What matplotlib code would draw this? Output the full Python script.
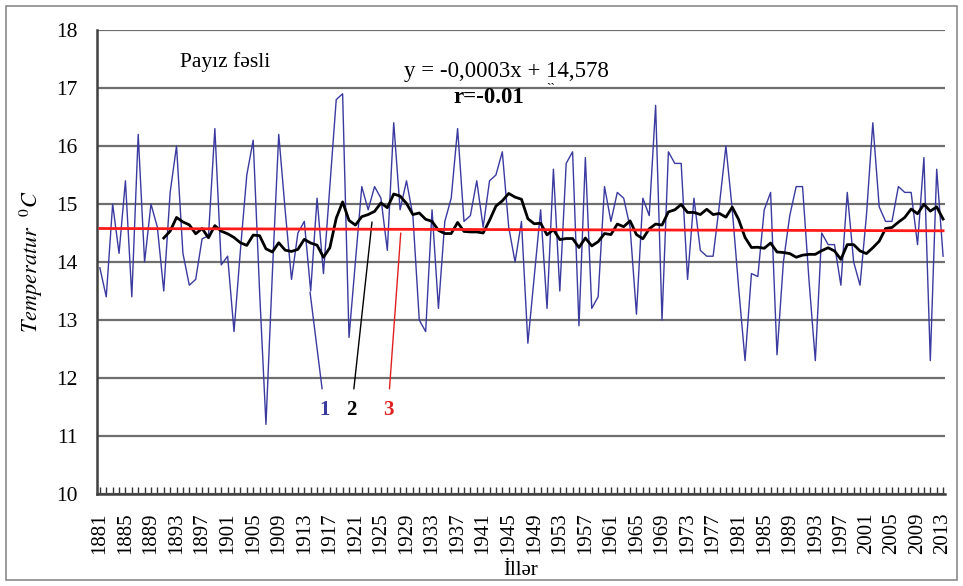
import numpy as np
import pandas as pd
import matplotlib
matplotlib.use("Agg")
import matplotlib.pyplot as plt
from matplotlib.patches import Rectangle

# ---- data ----
years = list(range(1881, 2014))
temps = [
    13.9, 13.4, 15.0, 14.15, 15.4, 13.4, 16.2, 14.0, 15.0, 14.6,   # 1881-1890
    13.5, 15.2, 16.0, 14.15, 13.6, 13.7, 14.4, 14.45, 16.3, 13.95, # 1891-1900
    14.1, 12.8, 14.2, 15.5, 16.1, 13.5, 11.2, 13.8, 16.2, 14.9,    # 1901-1910
    13.7, 14.5, 14.7, 13.5, 15.1, 13.8, 15.3, 16.8, 16.9, 12.7,    # 1911-1920
    14.0, 15.3, 14.9, 15.3, 15.1, 14.2, 16.4, 14.9, 15.4, 14.8,    # 1921-1930
    13.0, 12.8, 14.9, 13.2, 14.7, 15.1, 16.3, 14.7, 14.8, 15.4,    # 1931-1940
    14.6, 15.4, 15.5, 15.9, 14.6, 14.0, 14.7, 12.6, 13.75, 14.9,   # 1941-1950
    13.2, 15.6, 13.5, 15.7, 15.9, 12.9, 15.8, 13.2, 13.4, 15.3,    # 1951-1960
    14.7, 15.2, 15.1, 14.6, 13.1, 15.1, 14.8, 16.7, 13.0, 15.9,    # 1961-1970
    15.7, 15.7, 13.7, 15.1, 14.2, 14.1, 14.1, 15.0, 16.0, 14.9,    # 1971-1980
    13.55, 12.3, 13.8, 13.75, 14.9, 15.2, 12.4, 14.0, 14.8, 15.3,  # 1981-1990
    15.3, 13.7, 12.3, 14.5, 14.3, 14.3, 13.6, 15.2, 14.0, 13.6,    # 1991-2000
    14.8, 16.4, 14.95, 14.7, 14.7, 15.3, 15.2, 15.2, 14.3, 15.8,   # 2001-2010
    12.3, 15.6, 14.1,                                              # 2011-2013
]
ma_window = 11
trend_slope = -0.0003
trend_intercept = 14.578
x_tick_labels = [str(y) for y in range(1881, 2014, 4)]
y_ticks = list(range(10, 19))

s = pd.Series(temps, index=years)
moving_avg = s.rolling(ma_window).mean()
idx = np.arange(1, len(years) + 1)
trend = trend_intercept + trend_slope * idx

# ---- figure ----
W, H = 963, 586
fig = plt.figure(figsize=(W / 100, H / 100), dpi=100)
plt.rcParams['font.family'] = ['Liberation Serif', 'DejaVu Serif']
plt.rcParams['mathtext.fontset'] = 'stix'

ax = fig.add_axes([97 / W, 1 - 494 / H, (945 - 97) / W, (494 - 30) / H])

ax.plot(years, temps, color='#3a3aa0', lw=1.0, zorder=3)
ax.plot(years, moving_avg.values, color='black', lw=2.0, zorder=4)
ax.plot(years, trend, color='#ff1a1a', lw=2.0, zorder=5)

ax.set_xlim(1880.55, 2013.3)
ax.set_ylim(10, 18)
ax.set_yticks(y_ticks)
ax.set_yticklabels([str(v) for v in y_ticks], fontsize=15.5)
ax.set_xticks(list(range(1881, 2014, 4)))
ax.set_xticklabels(x_tick_labels, rotation=90, fontsize=15)
ax.set_xticks(years, minor=True)
ax.tick_params(axis='x', which='both', direction='in', length=5, width=1, color='#333333', pad=13)
ax.tick_params(axis='y', length=0, pad=14)

ax.yaxis.grid(True, color='#6e6e6e', lw=1.6, zorder=1)
ax.set_axisbelow(True)
for side in ['top', 'right']:
    ax.spines[side].set_visible(False)
for side in ['left', 'bottom']:
    ax.spines[side].set_color('#404040')
    ax.spines[side].set_linewidth(1.8)

ax.set_ylabel(r'$\it{Temperatur}\ \ ^{0}\it{C}$', fontsize=16, labelpad=8)
ax.set_xlabel('İllər', fontsize=15, labelpad=5)

# annotations
ax.text(1900.6, 17.45, 'Payız fəsli', fontsize=15.5, ha='center', va='center')
ax.text(1944.7, 17.28, 'y = -0,0003x + 14,578', fontsize=16.5, ha='center', va='center')
ax.text(1941.9, 16.83, 'r=-0.01', fontsize=16.5, fontweight='bold', ha='center', va='center')
ax.text(1951.6, 16.98, '``', fontsize=10, ha='center', va='center')

ax.annotate('1', xy=(1913.9, 13.48), xytext=(1916.2, 11.45), color='#3a3aa0',
            fontsize=15, fontweight='bold', ha='center', va='center',
            arrowprops=dict(arrowstyle='-', color='#3a3aa0', lw=1.0, shrinkA=6, shrinkB=0))
ax.annotate('2', xy=(1923.6, 14.69), xytext=(1920.4, 11.45), color='black',
            fontsize=15, fontweight='bold', ha='center', va='center',
            arrowprops=dict(arrowstyle='-', color='black', lw=1.0, shrinkA=6, shrinkB=0))
ax.annotate('3', xy=(1928.1, 14.5), xytext=(1926.1, 11.45), color='#e02020',
            fontsize=15, fontweight='bold', ha='center', va='center',
            arrowprops=dict(arrowstyle='-', color='#e02020', lw=1.0, shrinkA=6, shrinkB=0))

# outer frame
fig.patches.append(Rectangle((6 / W, 6 / H), (957 - 6) / W, (580 - 6) / H,
                             transform=fig.transFigure, fill=False,
                             edgecolor='#8a8a8a', lw=1.2))

fig.savefig('out.png', dpi=100)
